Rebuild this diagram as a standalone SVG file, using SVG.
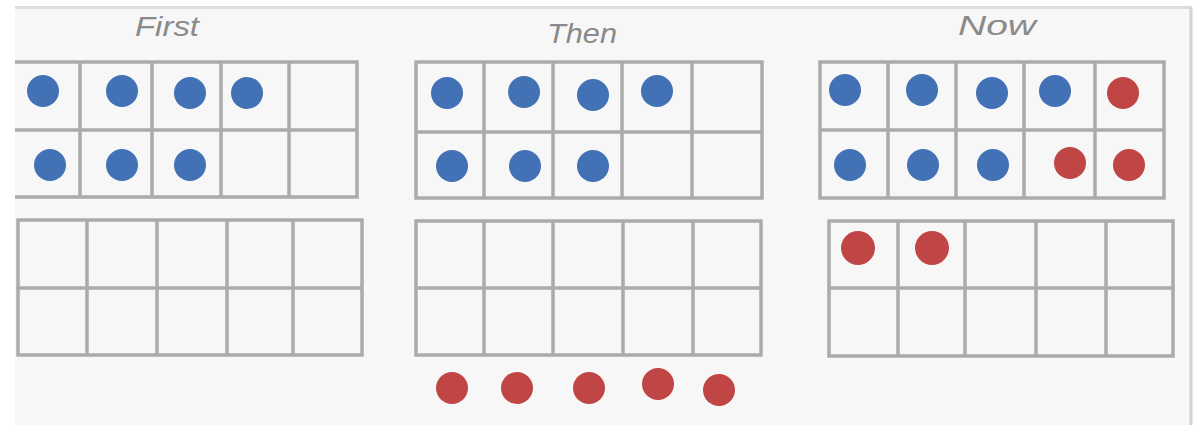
<svg xmlns="http://www.w3.org/2000/svg" width="1202" height="425" viewBox="0 0 1202 425">
<style>
.grid{fill:none;stroke:#ababab;stroke-width:3.5}
.b{fill:#4271b5}
.r{fill:#c04646}
.lbl{font-family:"Liberation Sans",Arial,sans-serif;font-style:italic;font-weight:300;font-size:27px;fill:#8a8a8a;text-anchor:middle}
</style>
<rect width="1202" height="425" fill="#ffffff"/>
<rect x="15" y="8" width="1176" height="417" fill="#f7f7f7"/>
<line x1="15" y1="7.5" x2="1192" y2="7.5" stroke="#dddddd" stroke-width="3"/>
<line x1="1191" y1="7" x2="1191" y2="425" stroke="#d2d2d2" stroke-width="3"/>

<g id="labels">
<text class="lbl" x="167" y="36" textLength="64" lengthAdjust="spacingAndGlyphs">First</text>
<text class="lbl" x="582" y="43" textLength="70" lengthAdjust="spacingAndGlyphs">Then</text>
<text class="lbl" x="997" y="35" textLength="78" lengthAdjust="spacingAndGlyphs">Now</text>
</g>

<g id="first-top">
<path class="grid" d="M15 62H357V197H15M15 130H357M80 62V197M152 62V197M221 62V197M289 62V197"/>
<circle class="b" cx="43" cy="91" r="16"/>
<circle class="b" cx="122" cy="91" r="16"/>
<circle class="b" cx="190" cy="93" r="16"/>
<circle class="b" cx="247" cy="93" r="16"/>
<circle class="b" cx="50" cy="165" r="16"/>
<circle class="b" cx="122" cy="165" r="16"/>
<circle class="b" cx="190" cy="165" r="16"/>
</g>

<g id="first-bottom">
<rect class="grid" x="18" y="220" width="344" height="135"/>
<path class="grid" d="M18 288H362M87 220V355M157 220V355M227 220V355M293 220V355"/>
</g>

<g id="then-top">
<rect class="grid" x="416" y="62" width="346" height="136"/>
<path class="grid" d="M416 132H762M484 62V198M553 62V198M622 62V198M692 62V198"/>
<circle class="b" cx="447" cy="93" r="16"/>
<circle class="b" cx="524" cy="92" r="16"/>
<circle class="b" cx="593" cy="95" r="16"/>
<circle class="b" cx="657" cy="91" r="16"/>
<circle class="b" cx="452" cy="166" r="16"/>
<circle class="b" cx="525" cy="166" r="16"/>
<circle class="b" cx="593" cy="166" r="16"/>
</g>

<g id="then-bottom">
<rect class="grid" x="416" y="221" width="345" height="134"/>
<path class="grid" d="M416 288H761M484 221V355M553 221V355M623 221V355M693 221V355"/>
</g>

<g id="then-extra">
<circle class="r" cx="452" cy="388" r="16"/>
<circle class="r" cx="517" cy="388" r="16"/>
<circle class="r" cx="589" cy="388" r="16"/>
<circle class="r" cx="658" cy="384" r="16"/>
<circle class="r" cx="719" cy="390" r="16"/>
</g>

<g id="now-top">
<rect class="grid" x="820" y="62" width="344" height="136"/>
<path class="grid" d="M820 130H1164M888 62V198M956 62V198M1024 62V198M1095 62V198"/>
<circle class="b" cx="845" cy="90" r="16"/>
<circle class="b" cx="922" cy="90" r="16"/>
<circle class="b" cx="992" cy="93" r="16"/>
<circle class="b" cx="1055" cy="91" r="16"/>
<circle class="r" cx="1123" cy="93" r="16"/>
<circle class="b" cx="850" cy="165" r="16"/>
<circle class="b" cx="923" cy="165" r="16"/>
<circle class="b" cx="993" cy="165" r="16"/>
<circle class="r" cx="1070" cy="163" r="16"/>
<circle class="r" cx="1129" cy="165" r="16"/>
</g>

<g id="now-bottom">
<rect class="grid" x="829" y="221" width="344" height="135"/>
<path class="grid" d="M829 288H1173M898 221V356M965 221V356M1036 221V356M1106 221V356"/>
<circle class="r" cx="858" cy="248" r="17"/>
<circle class="r" cx="932" cy="248" r="17"/>
</g>
</svg>
